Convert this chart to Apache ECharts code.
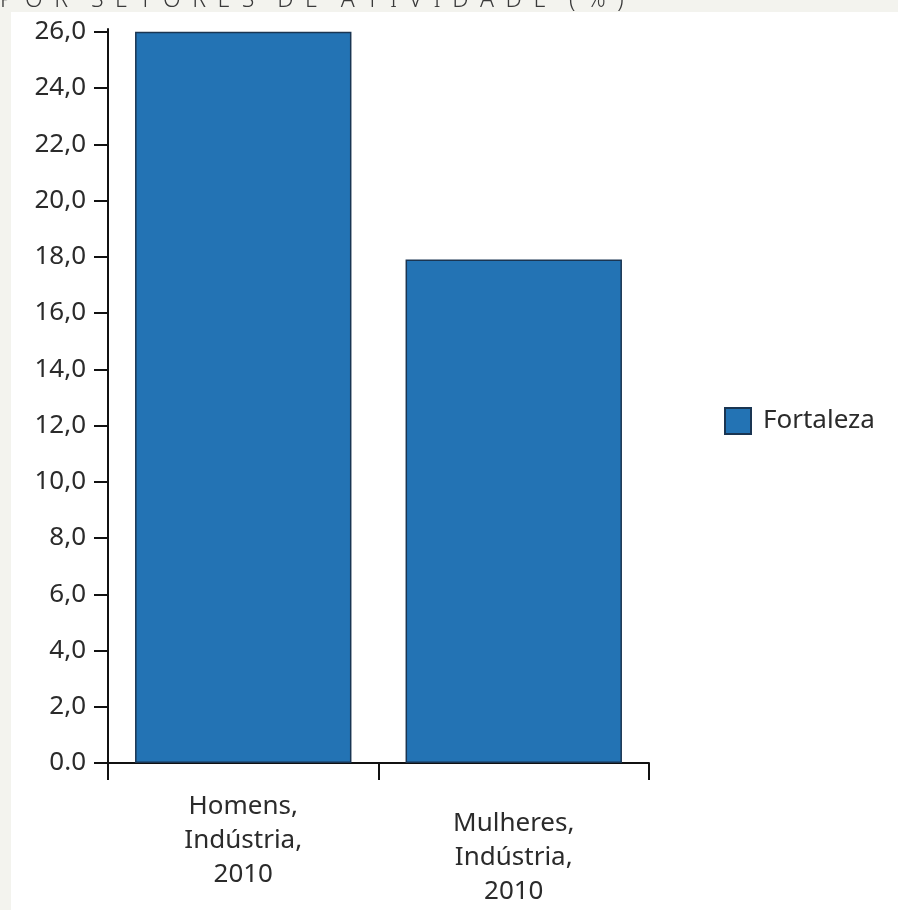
<!DOCTYPE html>
<html>
<head>
<meta charset="utf-8">
<script src="https://cdn.jsdelivr.net/npm/echarts@6/dist/echarts.min.js"></script>
<style>
  html, body { margin: 0; padding: 0; background: #f3f3ee; }
  #chart { width: 898px; height: 910px; }
</style>
</head>
<body>
<div id="chart"></div>
<script>
// Participação por setor de atividade, Fortaleza, 2010
const categories = ['Homens,\nIndústria,\n2010', 'Mulheres,\nIndústria,\n2010'];
const seriesName = 'Fortaleza';
const values = [26.0, 17.9];
const yTickLabels = ['0.0', '2,0', '4,0', '6,0', '8,0', '10,0', '12,0', '14,0',
                     '16,0', '18,0', '20,0', '22,0', '24,0', '26,0'];
const headerText = 'POR SETORES DE ATIVIDADE (%)';

// wide tracking for the header: en spaces between letters, wider gaps between words
const spaced = headerText.split(' ')
  .map(w => w.split('').join('\u2002'))
  .join('\u2002\u2002');
const fontFamily = '"Noto Sans", "Open Sans", sans-serif';

const chart = echarts.init(document.getElementById('chart'));
chart.setOption({
  backgroundColor: '#f3f3ee',
  animation: false,
  graphic: [
    { type: 'rect', left: 11, top: 12, shape: { width: 887, height: 898 },
      style: { fill: '#ffffff' }, z: -10 },
    { type: 'text', left: 0, top: -11,
      style: { text: spaced, font: '300 23px ' + fontFamily, fill: '#3a3a3a' } }
  ],
  grid: { left: 108, right: 249, top: 29, bottom: 147, containLabel: false },
  legend: {
    data: [seriesName],
    left: 719, top: 402,
    itemWidth: 26, itemHeight: 26, itemGap: 10,
    icon: 'rect',
    textStyle: { fontFamily: fontFamily, fontSize: 26, color: '#2b2b2b', padding: [0, 0, 0, 7] }
  },
  xAxis: {
    type: 'category',
    data: categories.map((c, i) => i === 1
      ? { value: c, textStyle: { padding: [17, 0, 0, 0] } }
      : c),
    boundaryGap: true,
    axisLine: { lineStyle: { color: '#111', width: 2 } },
    axisTick: { show: true, length: 17, inside: false, lineStyle: { color: '#111', width: 2 } },
    axisLabel: {
      margin: 27, fontFamily: fontFamily, fontSize: 26, color: '#2b2b2b',
      lineHeight: 34, align: 'center', interval: 0
    }
  },
  yAxis: {
    type: 'value',
    min: 0, max: 26.1, interval: 2,
    splitLine: { show: false },
    axisLine: { show: true, lineStyle: { color: '#111', width: 2 } },
    axisTick: { show: true, length: 14, lineStyle: { color: '#111', width: 2 } },
    axisLabel: {
      margin: 22, fontFamily: fontFamily, fontSize: 26, color: '#2b2b2b',
      showMaxLabel: false,
      formatter: v => yTickLabels[Math.round(v / 2)] ?? ''
    }
  },
  series: [{
    name: seriesName,
    type: 'bar',
    data: values,
    barWidth: '80%',
    itemStyle: { color: '#2373b4', borderColor: '#1a3552', borderWidth: 1.5 }
  }]
});
</script>
</body>
</html>
